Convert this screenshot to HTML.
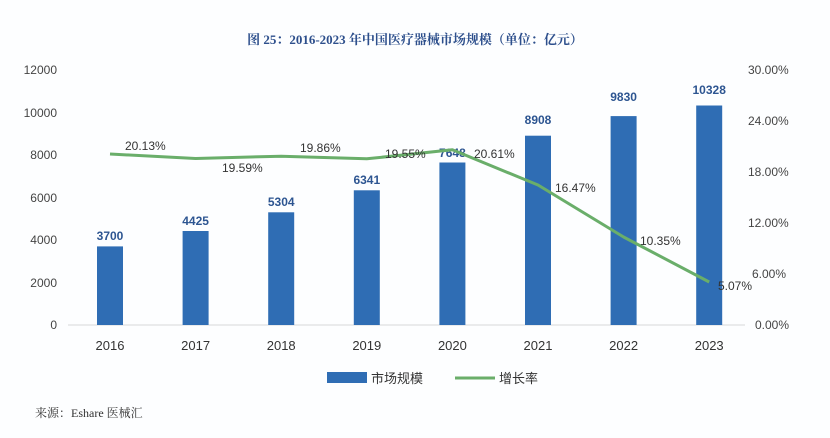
<!DOCTYPE html>
<html><head><meta charset="utf-8"><style>
body{margin:0;background:#fff;}
svg{display:block;font-family:"Liberation Sans","Noto Sans CJK SC",sans-serif;}
</style></head><body>
<svg width="830" height="438" viewBox="0 0 830 438">
<rect width="830" height="438" fill="#fdfeff"/>
<text x="415" y="44" text-anchor="middle" font-size="13" font-weight="bold" fill="#2d4f8c" font-family="Liberation Serif,Noto Serif CJK SC,serif">图 25：2016-2023 年中国医疗器械市场规模（单位：亿元）</text>
<g font-size="12" fill="#444">
<text x="57" y="74" text-anchor="end">12000</text>
<text x="57" y="117" text-anchor="end">10000</text>
<text x="57" y="159" text-anchor="end">8000</text>
<text x="57" y="202" text-anchor="end">6000</text>
<text x="57" y="244" text-anchor="end">4000</text>
<text x="57" y="287" text-anchor="end">2000</text>
<text x="57" y="329" text-anchor="end">0</text>
<text x="748" y="74">30.00%</text>
<text x="748" y="125">24.00%</text>
<text x="748" y="176">18.00%</text>
<text x="748" y="227">12.00%</text>
<text x="752" y="278">6.00%</text>
<text x="755" y="329">0.00%</text>
</g>
<line x1="68" y1="325" x2="745" y2="325" stroke="#d8d8d8" stroke-width="1"/>
<g fill="#2f6db4">
<rect x="97" y="246.4" width="26" height="78.6"/>
<rect x="182.6" y="231" width="26" height="94"/>
<rect x="268.2" y="212.3" width="26" height="112.7"/>
<rect x="353.8" y="190.3" width="26" height="134.7"/>
<rect x="439.4" y="162.5" width="26" height="162.5"/>
<rect x="525" y="135.7" width="26" height="189.3"/>
<rect x="610.6" y="116.1" width="26" height="208.9"/>
<rect x="696.2" y="105.5" width="26" height="219.5"/>
</g>
<g font-size="12" font-weight="bold" fill="#2d5591" text-anchor="middle">
<text x="110" y="240">3700</text>
<text x="195.6" y="225">4425</text>
<text x="281.2" y="206">5304</text>
<text x="366.8" y="184">6341</text>
<text x="452.4" y="157">7648</text>
<text x="538" y="124">8908</text>
<text x="623.6" y="101">9830</text>
<text x="709.2" y="94">10328</text>
</g>
<polyline fill="none" stroke="#6aae6a" stroke-width="3" stroke-linejoin="round" points="110,154 195.6,158.5 281.2,156.2 366.8,158.8 452.4,149.8 538,185 623.6,237 709.2,282"/>
<g font-size="12" fill="#333">
<text x="125" y="150">20.13%</text>
<text x="222" y="172">19.59%</text>
<text x="300" y="152">19.86%</text>
<text x="385" y="158">19.55%</text>
<text x="474" y="158">20.61%</text>
<text x="555" y="192">16.47%</text>
<text x="640" y="245">10.35%</text>
<text x="718" y="290">5.07%</text>
</g>
<g font-size="13" fill="#333">
<text x="110" y="350" text-anchor="middle">2016</text>
<text x="195.6" y="350" text-anchor="middle">2017</text>
<text x="281.2" y="350" text-anchor="middle">2018</text>
<text x="366.8" y="350" text-anchor="middle">2019</text>
<text x="452.4" y="350" text-anchor="middle">2020</text>
<text x="538" y="350" text-anchor="middle">2021</text>
<text x="623.6" y="350" text-anchor="middle">2022</text>
<text x="709.2" y="350" text-anchor="middle">2023</text>
</g>
<rect x="327" y="372" width="40" height="11" fill="#2f6db4"/>
<text x="371" y="383" font-size="13" fill="#333">市场规模</text>
<line x1="455" y1="378" x2="495" y2="378" stroke="#6aae6a" stroke-width="3"/>
<text x="499" y="383" font-size="13" fill="#333">增长率</text>
<text x="35" y="417" font-size="12" fill="#333" font-family="Liberation Serif,Noto Serif CJK SC,serif">来源：Eshare 医械汇</text>
</svg>
</body></html>
